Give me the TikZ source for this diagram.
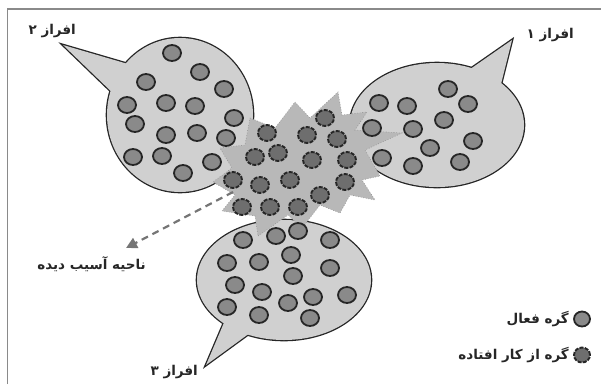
\documentclass[tikz,border=0pt]{standalone}
\usepackage{fontspec}
\TeXXeTstate=1
\newfontfamily\arfont[Script=Arabic]{DejaVu Sans}
\usetikzlibrary{arrows.meta,shapes.geometric}
\definecolor{bubblefill}{HTML}{D0D0D0}
\definecolor{starfill}{HTML}{B8B8B8}
\definecolor{dotfill}{HTML}{8A8A8A}
\definecolor{deadfill}{HTML}{6E6E6E}
\definecolor{edge}{HTML}{262626}
\definecolor{framec}{HTML}{8A8A8A}
\tikzset{
  act/.style={ellipse,draw=edge,line width=1.8pt,fill=dotfill,minimum width=18pt,minimum height=16pt,inner sep=0pt},
  dead/.style={ellipse,draw=edge,line width=1.9pt,dash pattern=on 4pt off 1.3pt,fill=deadfill,minimum width=18pt,minimum height=16pt,inner sep=0pt},
  lbl/.style={font=\arfont\bfseries\fontsize{13.5}{16}\selectfont,text=edge,inner sep=0pt},
  bstroke/.style={draw=edge,line width=2.6pt},
  bfill/.style={fill=bubblefill},
}
\begin{document}
\begin{tikzpicture}[x=1pt,y=-1pt]
\useasboundingbox (0,0) rectangle (601,384);
% frame
\draw[framec,line width=1.5pt] (7.5,384) -- (7.5,9) -- (601,9);

% bubble outlines (union trick)
\path[bstroke] (180,115) ellipse [x radius=73pt, y radius=77pt];
\path[bstroke] (63,45) -- (128,64) -- (118,98) -- cycle;
\path[bstroke] (437,125) ellipse [x radius=87pt, y radius=62pt];
\path[bstroke] (512,40) -- (466,72) -- (500,88) -- cycle;
\path[bstroke] (284,280) ellipse [x radius=87pt, y radius=60pt];
\path[bstroke] (206,365) -- (226,318) -- (254,330) -- cycle;
% fills
\path[bfill] (180,115) ellipse [x radius=73pt, y radius=77pt];
\path[bfill] (63,45) -- (128,64) -- (118,98) -- cycle;
\path[bfill] (437,125) ellipse [x radius=87pt, y radius=62pt];
\path[bfill] (512,40) -- (466,72) -- (500,88) -- cycle;
\path[bfill] (284,280) ellipse [x radius=87pt, y radius=60pt];
\path[bfill] (206,365) -- (226,318) -- (254,330) -- cycle;

% star
\path[fill=starfill,draw=framec,line width=0.6pt,dotted]
 (250,118) -- (275,128) -- (295,102) -- (310,118) -- (338,92) -- (342,115)
 -- (367,112) -- (355,130) -- (402,133) -- (365,150) -- (380,176) -- (362,180)
 -- (375,200) -- (350,195) -- (340,213) -- (320,205) -- (302,228) -- (288,215)
 -- (258,236) -- (255,216) -- (222,211) -- (235,195) -- (213,182) -- (232,168)
 -- (220,148) -- (245,145) -- cycle;

% bubble 2 dots
\foreach \p [count=\i] in {(172,53),(200,72),(146,82),(224,89),(127,105),(166,103),(195,106),(234,118),(135,124),(166,135),(197,133),(226,138),(133,157),(162,156),(212,162),(183,173)}
  \node[act] (bb\i) at \p {};
% bubble 1 dots
\foreach \p [count=\i] in {(448,89),(379,103),(407,106),(468,104),(444,120),(372,128),(413,129),(473,141),(430,148),(382,158),(413,166),(460,162)}
  \node[act] (ba\i) at \p {};
% bubble 3 dots
\foreach \p [count=\i] in {(243,240),(276,236),(298,231),(330,240),(227,263),(259,262),(291,255),(330,268),(235,285),(262,292),(293,276),(347,295),(227,307),(259,315),(288,303),(313,297),(310,318)}
  \node[act] (bc\i) at \p {};
% failed dots in star
\foreach \p [count=\i] in {(267,133),(307,135),(325,118),(337,139),(255,157),(278,153),(312,160),(347,160),(233,180),(260,185),(290,180),(345,182),(320,195),(242,207),(270,207),(298,207)}
  \node[dead] (sd\i) at \p {};

% damaged-region arrow
\coordinate (dstart) at (233,192);
\coordinate (dtip) at (126,248);
\draw[framec!85!black,line width=2.2pt,dash pattern=on 7pt off 5pt,-{Triangle[length=11pt,width=11pt]}] (dstart) -- (dtip);

% labels
\node[lbl,anchor=east] (l2) at (76,31) {\beginR افراز ۲\endR};
\node[lbl,anchor=east] (l1) at (574,35) {\beginR افراز ۱\endR};
\node[lbl,anchor=east] (l3) at (198,372) {\beginR افراز ۳\endR};
\node[lbl,anchor=east] (dmg) at (146,264) {\beginR ناحیه آسیب دیده\endR};

% legend
\node[act,minimum width=16pt,minimum height=15pt] (lg1) at (582,319) {};
\node[lbl,anchor=east] (lt1) at (569,319) {\beginR گره فعال\endR};
\node[dead,minimum width=16pt,minimum height=15pt] (lg2) at (582,355) {};
\node[lbl,anchor=east] (lt2) at (569,355) {\beginR گره از کار افتاده\endR};
\end{tikzpicture}
\end{document}
